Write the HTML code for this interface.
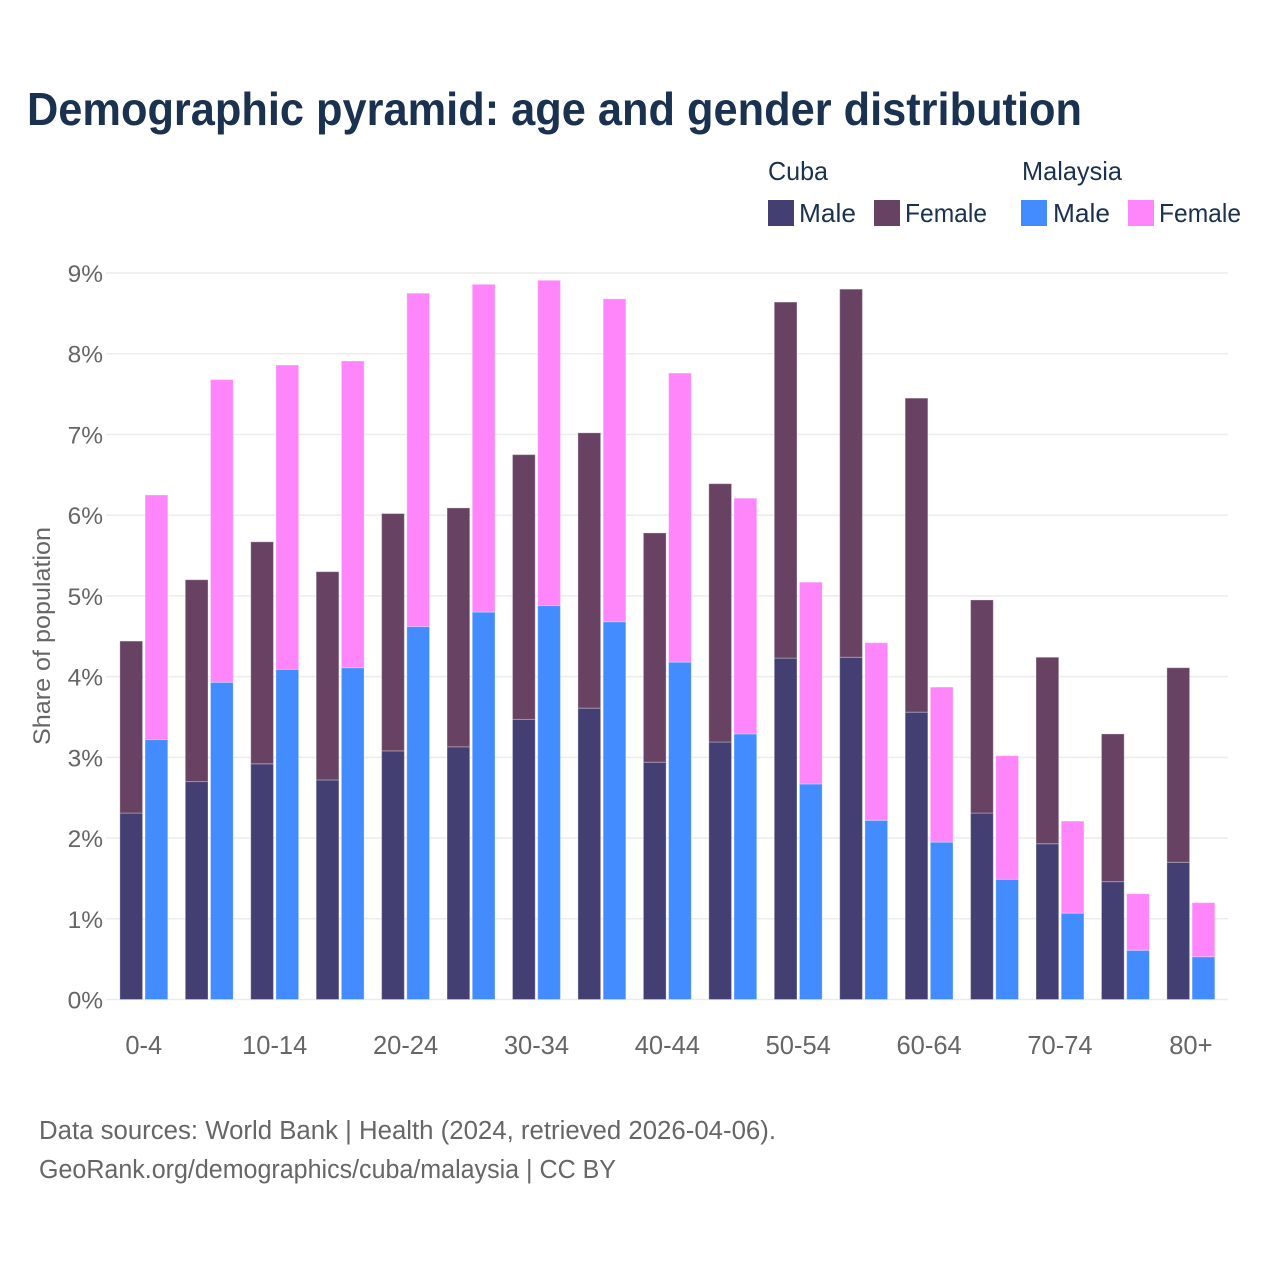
<!DOCTYPE html>
<html lang="en">
<head>
<meta charset="utf-8">
<title>Demographic pyramid: age and gender distribution</title>
<style>
html,body{margin:0;padding:0;background:#fff;}
svg{display:block;font-family:"Liberation Sans",Arial,sans-serif;}
</style>
</head>
<body>
<svg id="chart" width="1280" height="1280" viewBox="0 0 1280 1280" xmlns="http://www.w3.org/2000/svg">
  <rect x="0" y="0" width="1280" height="1280" fill="#ffffff"/>
  <text x="27" y="125" font-size="46" font-weight="700" fill="#1a3150" textLength="1055" lengthAdjust="spacingAndGlyphs">Demographic pyramid: age and gender distribution</text>

  <g font-size="26" fill="#1a3150">
    <text x="768" y="180" textLength="60" lengthAdjust="spacingAndGlyphs">Cuba</text>
    <text x="1022" y="180" textLength="100" lengthAdjust="spacingAndGlyphs">Malaysia</text>
    <rect x="768" y="200" width="26" height="26" fill="#433f72"/>
    <text x="799" y="222" textLength="57" lengthAdjust="spacingAndGlyphs">Male</text>
    <rect x="874" y="200" width="26" height="26" fill="#684263"/>
    <text x="905" y="222" textLength="82" lengthAdjust="spacingAndGlyphs">Female</text>
    <rect x="1021" y="200" width="26" height="26" fill="#428cff"/>
    <text x="1053" y="222" textLength="57" lengthAdjust="spacingAndGlyphs">Male</text>
    <rect x="1128" y="200" width="26" height="26" fill="#ff85fb"/>
    <text x="1159" y="222" textLength="82" lengthAdjust="spacingAndGlyphs">Female</text>
  </g>

  <text transform="translate(50,636) rotate(-90)" text-anchor="middle" font-size="24.5" fill="#666666" textLength="218" lengthAdjust="spacingAndGlyphs">Share of population</text>

  <g id="grid"></g>
  <g id="yticks" font-size="24.5" fill="#666666" text-anchor="end"></g>
  <g id="bars"></g>
  <g id="xticks" font-size="25.5" fill="#666666" text-anchor="middle"></g>

  <g font-size="25.5" fill="#666666">
    <text x="39" y="1139" textLength="737" lengthAdjust="spacingAndGlyphs">Data sources: World Bank | Health (2024, retrieved 2026-04-06).</text>
    <text x="39" y="1178" textLength="577" lengthAdjust="spacingAndGlyphs">GeoRank.org/demographics/cuba/malaysia | CC BY</text>
  </g>
</svg>
<script>
var categories = ["0-4","5-9","10-14","15-19","20-24","25-29","30-34","35-39","40-44","45-49","50-54","55-59","60-64","65-69","70-74","75-79","80+"];
var xTickLabels = ["0-4","10-14","20-24","30-34","40-44","50-54","60-64","70-74","80+"];
var yTickValues = [0,1,2,3,4,5,6,7,8,9];
var cubaMale = [2.31,2.70,2.92,2.72,3.08,3.13,3.47,3.61,2.94,3.19,4.23,4.24,3.56,2.31,1.93,1.46,1.70];
var cubaFemale = [2.13,2.50,2.75,2.58,2.94,2.96,3.28,3.41,2.84,3.20,4.41,4.56,3.89,2.64,2.31,1.83,2.41];
var malaysiaMale = [3.22,3.93,4.09,4.11,4.62,4.80,4.88,4.68,4.18,3.29,2.67,2.22,1.95,1.49,1.07,0.61,0.53];
var malaysiaFemale = [3.03,3.75,3.77,3.80,4.13,4.06,4.03,4.00,3.58,2.92,2.50,2.20,1.92,1.53,1.14,0.70,0.67];

var NS = "http://www.w3.org/2000/svg";
var plotLeft = 106, plotRight = 1228;
var bandStart = 111.1, bandStep = 65.44;
var barWidth = 22.7, barGap = 2.5;

function yScale(v) { return 999.5 - v * 80.72; }
function bandCenter(i) { return bandStart + bandStep * (i + 0.5); }
function barX(i, seriesIndex) {
  return bandCenter(i) - barWidth - barGap / 2 + seriesIndex * (barWidth + barGap);
}
function addBar(parent, name, x, v0, v1, fill) {
  var r = document.createElementNS(NS, "rect");
  r.setAttribute("x", x);
  r.setAttribute("y", yScale(v1));
  r.setAttribute("width", barWidth);
  r.setAttribute("height", yScale(v0) - yScale(v1));
  r.setAttribute("fill", fill);
  r.setAttribute("stroke", "#ffffff");
  r.setAttribute("stroke-opacity", "0.3");
  r.setAttribute("stroke-width", "1");
  
  
  parent.appendChild(r);
}

var gridGroup = document.getElementById("grid");
var yTickGroup = document.getElementById("yticks");
yTickValues.forEach(function (v) {
  var line = document.createElementNS(NS, "line");
  line.setAttribute("x1", plotLeft);
  line.setAttribute("x2", plotRight);
  line.setAttribute("y1", yScale(v));
  line.setAttribute("y2", yScale(v));
  line.setAttribute("stroke", "#ececec");
  line.setAttribute("stroke-width", "1.5");
  
  
  gridGroup.appendChild(line);

  var label = document.createElementNS(NS, "text");
  label.setAttribute("x", 103);
  label.setAttribute("y", yScale(v) + 9);
  label.textContent = v + "%";
  
  
  yTickGroup.appendChild(label);
});

var barGroup = document.getElementById("bars");
categories.forEach(function (cat, i) {
  addBar(barGroup, "bar-cuba-male-" + cat, barX(i, 0), 0, cubaMale[i], "#433f72");
  addBar(barGroup, "bar-cuba-female-" + cat, barX(i, 0), cubaMale[i], cubaMale[i] + cubaFemale[i], "#684263");
  addBar(barGroup, "bar-malaysia-male-" + cat, barX(i, 1), 0, malaysiaMale[i], "#428cff");
  addBar(barGroup, "bar-malaysia-female-" + cat, barX(i, 1), malaysiaMale[i], malaysiaMale[i] + malaysiaFemale[i], "#ff85fb");
});

var xTickGroup = document.getElementById("xticks");
xTickLabels.forEach(function (lab) {
  var t = document.createElementNS(NS, "text");
  t.setAttribute("x", bandCenter(categories.indexOf(lab)));
  t.setAttribute("y", 1054);
  t.textContent = lab;
  
  
  xTickGroup.appendChild(t);
});
</script>
</body>
</html>
